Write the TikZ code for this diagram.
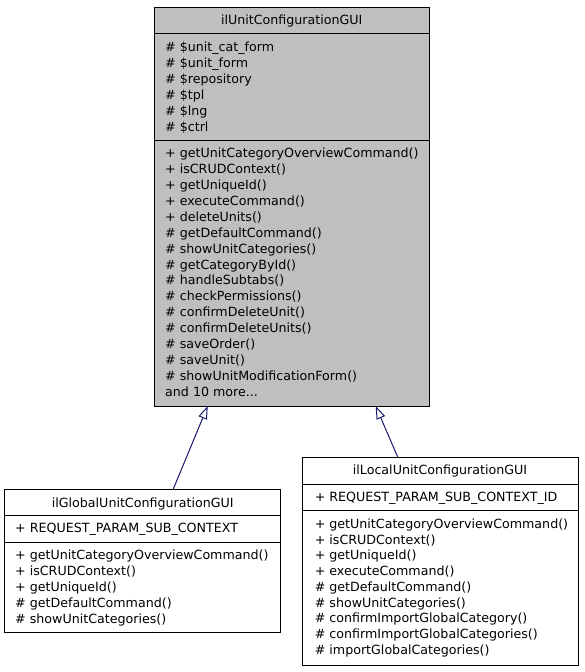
\documentclass[tikz,border=0pt]{standalone}
\usepackage{fontspec}
\setmainfont{DejaVu Sans}
\usetikzlibrary{arrows.meta,positioning}

\definecolor{classgray}{HTML}{BFBFBF}
\definecolor{edgeblue}{HTML}{191970}
\newcommand{\umlfont}{\fontsize{12.65}{16}\selectfont}

\tikzset{
	classbox/.style={draw=black, line width=1pt, anchor=north west, inner sep=0pt, outer sep=0pt},
	classname/.style={anchor=base, inner sep=0pt, font=\umlfont},
	member/.style={anchor=base west, inner sep=0pt, font=\umlfont},
	inherits/.style={draw=edgeblue, line width=1pt, -{Triangle[open, length=13pt, width=9pt]}},
}

\begin{document}
\begin{tikzpicture}[x=1pt,y=-1pt]

	\useasboundingbox (0,0) rectangle (584,672);

	% base class
	\node[classbox, fill=classgray, minimum width=275.5pt, minimum height=399pt] (base) at (154,7) {};
	\node[classname] (base name) at (291.75,24.3) {ilUnitConfigurationGUI};
	\draw[line width=1pt] (154,33.3) -- (429.5,33.3);
	\draw[line width=1pt] (154,140) -- (429.5,140);

	\foreach \txt [count=\i] in {\# \$unit\_cat\_form, \# \$unit\_form, \# \$repository, \# \$tpl, \# \$lng, \# \$ctrl}
		\node[member] (base a\i) at (165,{51+16*(\i-1)}) {\txt};

	\foreach \txt [count=\i] in {+ getUnitCategoryOverviewCommand(), + isCRUDContext(), + getUniqueId(), + executeCommand(), + deleteUnits(), \# getDefaultCommand(), \# showUnitCategories(), \# getCategoryById(), \# handleSubtabs(), \# checkPermissions(), \# confirmDeleteUnit(), \# confirmDeleteUnits(), \# saveOrder(), \# saveUnit(), \# showUnitModificationForm(), and 10 more.{}.{}.}
		\node[member] (base m\i) at (165,{157.5+15.93*(\i-1)}) {\txt};

	% global subclass
	\node[classbox, fill=white, minimum width=276pt, minimum height=143pt] (glob) at (4.7,489) {};
	\node[classname] (glob name) at (142.7,507) {ilGlobalUnitConfigurationGUI};
	\draw[line width=1pt] (4.7,515.7) -- (280.7,515.7);
	\draw[line width=1pt] (4.7,542.3) -- (280.7,542.3);
	\node[member] (glob a1) at (15,532.3) {+ REQUEST\_PARAM\_SUB\_CONTEXT};

	\foreach \txt [count=\i] in {+ getUnitCategoryOverviewCommand(), + isCRUDContext(), + getUniqueId(), \# getDefaultCommand(), \# showUnitCategories()}
		\node[member] (glob m\i) at (15,{559.3+16*(\i-1)}) {\txt};

	% local subclass
	\node[classbox, fill=white, minimum width=276pt, minimum height=208pt] (loc) at (302,457) {};
	\node[classname] (loc name) at (440,474.5) {ilLocalUnitConfigurationGUI};
	\draw[line width=1pt] (302,484) -- (578,484);
	\draw[line width=1pt] (302,510) -- (578,510);
	\node[member] (loc a1) at (314.6,501.3) {+ REQUEST\_PARAM\_SUB\_CONTEXT\_ID};

	\foreach \txt [count=\i] in {+ getUnitCategoryOverviewCommand(), + isCRUDContext(), + getUniqueId(), + executeCommand(), \# getDefaultCommand(), \# showUnitCategories(), \# confirmImportGlobalCategory(), \# confirmImportGlobalCategories(), \# importGlobalCategories()}
		\node[member] (loc m\i) at (314.6,{528.3+15.75*(\i-1)}) {\txt};

	% inheritance
	\draw[inherits] ([xshift=168.6pt]glob.north west) -- ([xshift=53.7pt]base.south west);
	\draw[inherits] ([xshift=95.7pt]loc.north west) -- ([xshift=221.7pt]base.south west);

\end{tikzpicture}
\end{document}
